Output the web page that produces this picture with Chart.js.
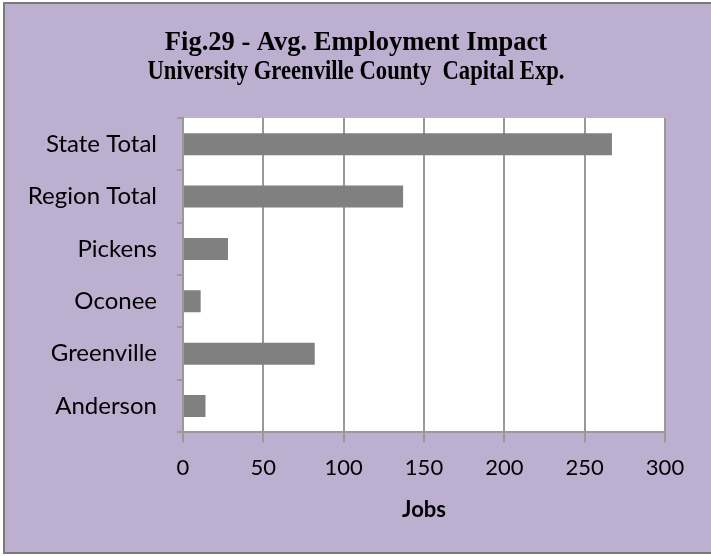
<!DOCTYPE html>
<html>
<head>
<meta charset="utf-8">
<script src="https://cdn.jsdelivr.net/npm/chart.js@4/dist/chart.umd.min.js"></script>
<style>
  html, body { margin: 0; padding: 0; background: #ffffff; }
  #frame {
    position: absolute; left: 3px; top: 2px; width: 712px; height: 552px;
    background: #bcafd0; border: 2px solid #7a7a7a; box-sizing: border-box;
  }
  #wrap { position: absolute; left: 0; top: 0; width: 711px; height: 556px; }
</style>
</head>
<body>
<div id="frame"></div>
<div id="wrap"><canvas id="c" width="711" height="556"></canvas></div>
<script>
// Counties and totals, listed top to bottom as they appear on the axis
const categories = ["State Total", "Region Total", "Pickens", "Oconee", "Greenville", "Anderson"];
const jobs = [267, 137, 28, 11, 82, 14];
const xTicks = [0, 50, 100, 150, 200, 250, 300];
const titleLines = ["Fig.29 - Avg. Employment Impact", "University Greenville County  Capital Exp."];
const xAxisTitle = "Jobs";

// White plot area behind the bars
const plotBackground = {
  id: "plotBackground",
  beforeDraw(chart) {
    const { ctx, chartArea: a } = chart;
    ctx.save();
    ctx.fillStyle = "#ffffff";
    ctx.fillRect(a.left, a.top, a.right - a.left, a.bottom - a.top);
    ctx.restore();
  }
};

// Two-line heading centred over the canvas; the second line is set a little tighter
const heading = {
  id: "heading",
  afterDraw(chart) {
    const { ctx } = chart;
    const widths = [400, 417];
    ctx.save();
    ctx.fillStyle = "#000000";
    ctx.font = "bold 26.5px 'Liberation Serif', 'Times New Roman', serif";
    ctx.textAlign = "center";
    ctx.textBaseline = "alphabetic";
    titleLines.forEach((line, i) => ctx.fillText(line, 356, 50 + i * 29, widths[i]));
    ctx.restore();
  }
};

const sansFamily = "Lato, 'Open Sans', sans-serif";

new Chart(document.getElementById("c"), {
  type: "bar",
  data: {
    labels: categories,
    datasets: [{
      data: jobs,
      backgroundColor: "#808080",
      borderWidth: 0,
      barPercentage: 0.42,
      categoryPercentage: 1
    }]
  },
  options: {
    indexAxis: "y",
    responsive: false,
    animation: false,
    layout: { padding: { left: 0, right: 46, top: 118, bottom: 33 } },
    plugins: {
      legend: { display: false },
      tooltip: { enabled: false },
      title: { display: false }
    },
    scales: {
      x: {
        min: 0,
        max: 300,
        afterBuildTicks(axis) { axis.ticks = xTicks.map(v => ({ value: v })); },
        grid: { color: "#999999", lineWidth: 2, drawTicks: true, tickLength: 10, tickColor: "#999999" },
        border: { color: "#999999", width: 2 },
        ticks: { color: "#000000", font: { family: sansFamily, size: 22 }, padding: 13 },
        title: {
          display: true,
          text: xAxisTitle,
          color: "#000000",
          font: { family: sansFamily, size: 22, weight: "bold" },
          padding: { top: 2, bottom: 0 }
        }
      },
      y: {
        afterFit(axis) { axis.width = 183; },
        grid: { offset: true, drawOnChartArea: false, drawTicks: true, tickLength: 6, color: "#999999", lineWidth: 2 },
        border: { color: "#999999", width: 2 },
        ticks: { color: "#000000", font: { family: sansFamily, size: 24 }, padding: 20 }
      }
    }
  },
  plugins: [plotBackground, heading]
});
</script>
</body>
</html>
